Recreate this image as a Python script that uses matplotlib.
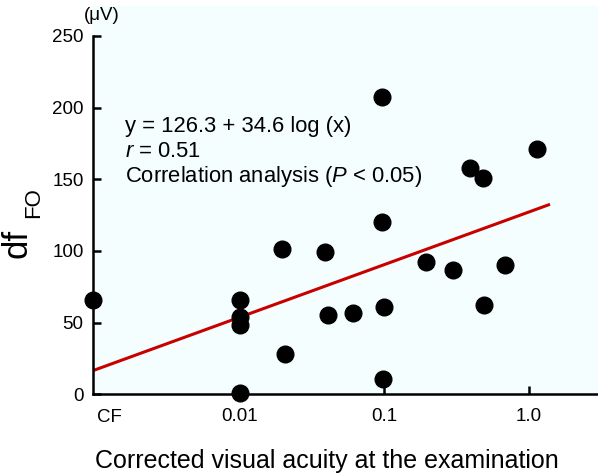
import matplotlib
matplotlib.use('Agg')
import matplotlib.pyplot as plt
import matplotlib.transforms as mtransforms
from matplotlib.ticker import NullLocator

plt.rcParams['font.family'] = ['Liberation Sans', 'DejaVu Sans']
plt.rcParams['mathtext.fontset'] = 'custom'
plt.rcParams['mathtext.rm'] = 'Liberation Sans'
plt.rcParams['mathtext.it'] = 'Liberation Sans:italic'

# ---- data ----
CF_VALUE = 10 ** -3.015  # "CF" (counting fingers) plotted at the left end of the log axis
acuity = [CF_VALUE, 0.01, 0.01, 0.01, 0.01, 0.0196, 0.0204, 0.039, 0.041, 0.061,
          0.097, 0.097, 0.1, 0.098, 0.194, 0.30, 0.39, 0.48, 0.49, 0.69, 1.14]
df_fo = [66, 66, 54, 48, 1, 101, 28, 99, 55, 57,
         207, 120, 61, 11, 92, 87, 158, 151, 62, 90, 171]
fit_x = [CF_VALUE, 1.405]
fit_y = [16.6, 132.5]
x_tick_values = [0.01, 0.1, 1.0]
x_tick_labels = ['0.01', '0.1', '1.0']
y_tick_values = [0, 50, 100, 150, 200, 250]

W, H = 598, 475
fig = plt.figure(figsize=(W / 100, H / 100), dpi=100)
left_px, bottom_px, top_px = 93.3, 80.7, 469.0
ax = fig.add_axes([left_px / W, bottom_px / H, 1 - left_px / W, (top_px - bottom_px) / H])
ax.set_facecolor('#F4FEFF')

ax.set_xscale('log')
ax.set_xlim(CF_VALUE, 10 ** 0.48)
ax.set_ylim(0, 270.8)

ax.plot(fit_x, fit_y, color='#C80000', lw=2.2, zorder=2, solid_capstyle='butt')
ax.plot(acuity, df_fo, 'o', color='black', ms=12, clip_on=False, zorder=3)

for s in ['top', 'right']:
    ax.spines[s].set_visible(False)
ax.spines['left'].set_bounds(0, 250)
ax.spines['left'].set_linewidth(1.8)
ax.spines['bottom'].set_linewidth(1.8)

ax.set_yticks(y_tick_values)
ax.set_xticks(x_tick_values, x_tick_labels)
ax.xaxis.set_minor_locator(NullLocator())
ax.tick_params(axis='y', direction='in', length=6, width=1.8, pad=7, labelsize=13.5)
ax.tick_params(axis='x', direction='in', length=6, width=1.8, pad=10, labelsize=13.5)

fig.text(96.7 / W, 1 - 422.5 / H, 'CF', ha='left', va='baseline', fontsize=13.5)

trans = mtransforms.blended_transform_factory(ax.transAxes, ax.transData)
tx = (125 - left_px) / (W - left_px)
ax.text(tx, 182.7, 'y = 126.3 + 34.6 log (x)', transform=trans, fontsize=15.8, va='baseline')
ax.text(tx, 165.3, r'$\mathit{r}$ = 0.51', transform=trans, fontsize=15.8, va='baseline')
ax.text(tx, 148.3, r'Correlation analysis ($\mathit{P}$ < 0.05)', transform=trans,
        fontsize=15.8, va='baseline')

fig.text(101.5 / W, 1 - 15 / H, '(\u03bcV)', ha='center', va='center', fontsize=13.5)

fig.text(326.5 / W, 1 - 467.7 / H, 'Corrected visual acuity at the examination',
         ha='center', va='baseline', fontsize=18)

fig.text(27 / W, 1 - 258 / H, 'df', rotation=90, rotation_mode='anchor',
         ha='left', va='baseline', fontsize=25)
fig.text(39.3 / W, 1 - 218.3 / H, 'FO', rotation=90, rotation_mode='anchor',
         ha='left', va='baseline', fontsize=16)

fig.savefig('out.png', dpi=100)
